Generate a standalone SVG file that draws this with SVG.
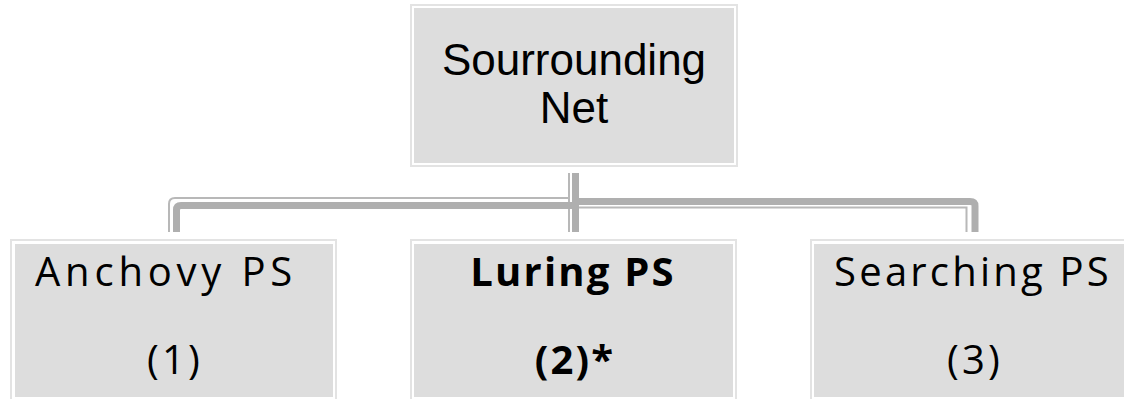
<svg xmlns="http://www.w3.org/2000/svg" width="1124" height="399" viewBox="0 0 1124 399">
<style>
.frame{fill:none;stroke:#e3e3e3;stroke-width:2}
.fill{fill:#dddddd}
.thin{fill:none;stroke:#b8b8b8;stroke-width:2}
.thick{fill:none;stroke:#afafaf;stroke-width:7}
.t1{font-family:"Liberation Sans",Arial,sans-serif;font-size:44px;fill:#000;text-anchor:middle}
.t2{font-family:"Open Sans","Noto Sans",sans-serif;font-size:40px;fill:#000;text-anchor:middle;letter-spacing:3.2px}
.b{font-weight:bold;letter-spacing:2.2px}
.wide{letter-spacing:4.8px}
</style>
<rect width="1124" height="399" fill="#ffffff"/>
<g id="connectors">
<path class="thin" d="M569,173 V232"/>
<path class="thick" d="M575.5,173 V232"/>
<path class="thin" d="M568,198 H175 Q169,198 169,204 V232"/>
<path class="thick" d="M572,205.5 H181 Q176.5,205.5 176.5,210 V232"/>
<path class="thick" d="M579,201.5 H970 Q975,201.5 975,206 V232"/>
<path class="thin" d="M579,207.5 H966.5 V232"/>
</g>
<g id="node-top">
<rect class="frame" x="411" y="5" width="326" height="161"/>
<rect class="fill" x="414" y="8" width="320" height="155"/>
<text class="t1" x="574" y="75">Sourrounding</text>
<text class="t1" x="574" y="123">Net</text>
</g>
<g id="node-anchovy">
<rect class="frame" x="11" y="240" width="325" height="160"/>
<rect class="fill" x="15" y="244" width="318" height="153"/>
<text class="t2 wide" x="166" y="286">Anchovy PS</text>
<text class="t2" x="175" y="374">(1)</text>
</g>
<g id="node-luring">
<rect class="frame" x="411" y="240" width="325" height="160"/>
<rect class="fill" x="414" y="244" width="319" height="153"/>
<text class="t2 b" x="573" y="286">Luring PS</text>
<text class="t2 b" x="575" y="374">(2)*</text>
</g>
<g id="node-searching">
<rect class="frame" x="811" y="240" width="325" height="160"/>
<rect class="fill" x="814" y="244" width="319" height="153"/>
<text class="t2" x="973" y="286">Searching PS</text>
<text class="t2" x="975" y="374">(3)</text>
</g>
</svg>
